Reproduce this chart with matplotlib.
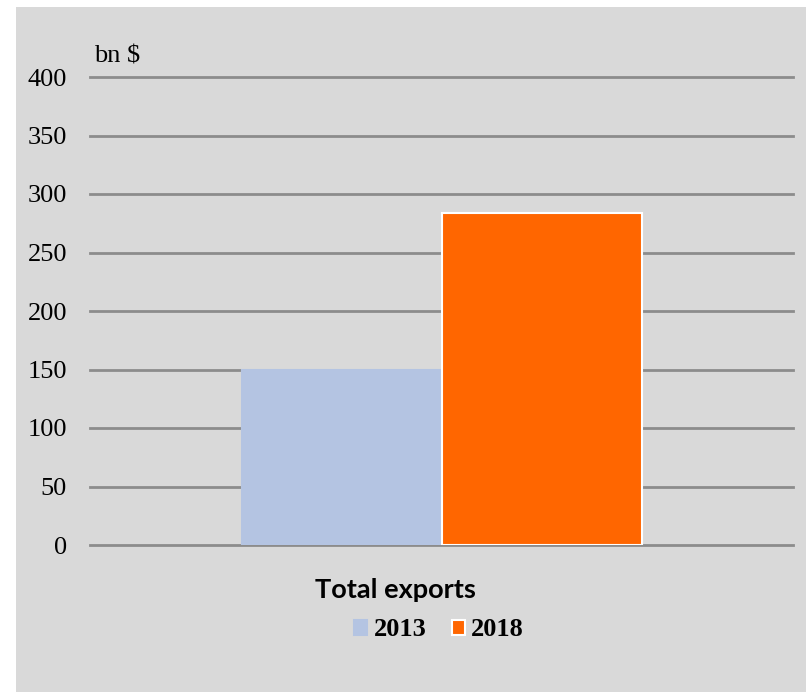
import matplotlib
matplotlib.use("Agg")
import matplotlib.pyplot as plt
from matplotlib.patches import Rectangle, Patch

# Data
category = "Total exports"
years = ["2013", "2018"]
values = [150, 284]
colors = ["#b4c4e2", "#ff6600"]
edge_colors = ["#b4c4e2", "#ffffff"]
y_ticks = [0, 50, 100, 150, 200, 250, 300, 350, 400]
unit_label = "bn $"

W, H = 806, 692
fig = plt.figure(figsize=(W / 100, H / 100), dpi=100, facecolor="white")

# grey chart area background
fig.patches.append(Rectangle((16 / W, 0), 1 - 16 / W, 1 - 7 / H,
                             transform=fig.transFigure, facecolor="#d9d9d9",
                             edgecolor="none", zorder=-5))

ax = fig.add_axes([90 / W, (H - 545) / H, (793 - 90) / W, (545 - 77) / H])
ax.set_facecolor("none")
ax.set_xlim(-0.5, 0.5)
ax.set_ylim(0, 400)

bar_w = 200 / 703
offsets = [-bar_w / 2, bar_w / 2]
for off, v, c, ec in zip(offsets, values, colors, edge_colors):
    ax.bar(off, v, width=bar_w, color=c, edgecolor=ec, linewidth=1.5, zorder=3)

ax.set_yticks(y_ticks)
ax.set_yticklabels([str(t) for t in y_ticks], family="Liberation Serif", fontsize=19)
ax.tick_params(axis="y", length=0, pad=16.5, colors="black")
ax.set_xticks([])
ax.yaxis.grid(True, color="#8c8c8c", linewidth=2)
for gl in ax.get_ygridlines():
    gl.set_clip_on(False)
ax.set_axisbelow(True)
for s in ax.spines.values():
    s.set_visible(False)

fig.text(94 / W, 1 - 57 / H, unit_label, family="Liberation Serif", fontsize=19,
         ha="left", va="center")

fig.text(395 / W, 1 - 590 / H, category, family="Lato", fontweight="bold",
         fontsize=19.5, ha="center", va="center")

handles = [Patch(facecolor=c, edgecolor=ec, linewidth=1.5) for c, ec in zip(colors, edge_colors)]
fig.legend(handles, years, loc="center", bbox_to_anchor=(439 / W, 1 - 630 / H),
           ncol=2, frameon=False, prop={"family": "Liberation Serif", "weight": "bold", "size": 19},
           handlelength=0.5, handleheight=0.5, handletextpad=0.25, columnspacing=0.95,
           borderpad=0, borderaxespad=0)

fig.savefig("out.png", dpi=100, facecolor="white")
